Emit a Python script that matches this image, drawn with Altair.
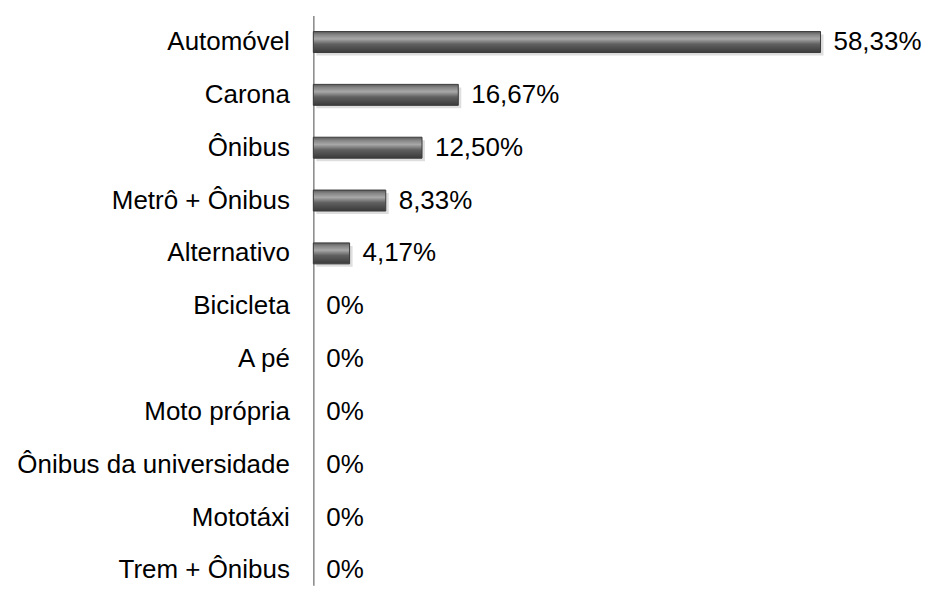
import altair as alt
import pandas as pd

categories = ["Automóvel\u00a0", "Carona", "Ônibus", "Metrô + Ônibus", "Alternativo",
              "Bicicleta", "A pé\u00a0", "Moto própria", "Ônibus da universidade",
              "Mototáxi", "Trem + Ônibus"]
values = [58.33, 16.67, 12.50, 8.33, 4.17, 0, 0, 0, 0, 0, 0]
value_labels = ["58,33%", "16,67%", "12,50%", "8,33%", "4,17%",
                "0%", "0%", "0%", "0%", "0%", "0%"]

df = pd.DataFrame({"cat": categories, "v": values, "lbl": value_labels})

FONT = "Liberation Sans"

y = alt.Y("cat:N", sort=categories, title=None,
          scale=alt.Scale(paddingInner=0.603, paddingOuter=0.1933, align=0.78),
          axis=alt.Axis(ticks=False, labelPadding=24, labelFontSize=26,
                        labelFont=FONT, labelColor="#000000", domainColor="#868686",
                        domainWidth=1.5, labelLimit=400))
x = alt.X("v:Q", title=None, scale=alt.Scale(domain=[0, 70], nice=False),
          axis=None)

grad = alt.Gradient(
    gradient="linear", x1=0, x2=0, y1=0, y2=1,
    stops=[
        alt.GradientStop(offset=0, color="#5a5a5a"),
        alt.GradientStop(offset=0.15, color="#858585"),
        alt.GradientStop(offset=0.35, color="#a8a8a8"),
        alt.GradientStop(offset=0.6, color="#606060"),
        alt.GradientStop(offset=1, color="#3a3a3a"),
    ])

base = alt.Chart(df).transform_filter("datum.v > 0")

shadow = base.mark_bar(color="#c8c8c8", opacity=0.6, yOffset=3, xOffset=3).encode(x=x, y=y)

bars = base.mark_bar(color=grad, stroke="#3a3a3a", strokeWidth=1).encode(x=x, y=y)

text = alt.Chart(df).mark_text(
    align="left", baseline="middle", dx=13, fontSize=26, font=FONT, color="#000000"
).encode(x=x, y=y, text="lbl:N")

chart = alt.layer(shadow, bars, text).properties(
    width=610, height=571,
    padding={"left": 306, "top": 7, "right": 0, "bottom": 0},
    autosize=alt.AutoSizeParams(type="none"),
).configure_view(stroke=None)

chart.save("out.html", embed_options={"renderer": "svg", "actions": False})
